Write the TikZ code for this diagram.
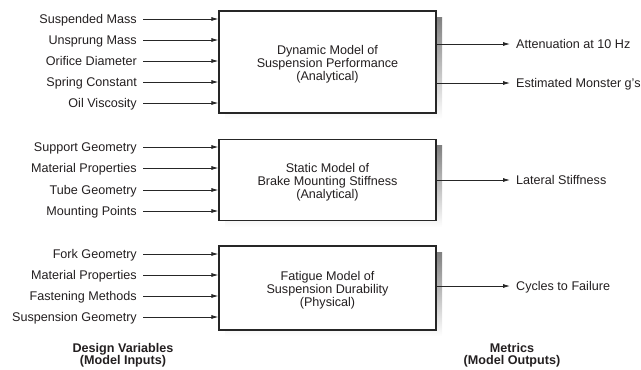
\documentclass[tikz,border=0pt]{standalone}
\usepackage{fontspec}
\setmainfont{Liberation Sans}
\usetikzlibrary{arrows.meta}
\definecolor{txt}{HTML}{231F20}
\definecolor{shade}{HTML}{D4D4D4}
\begin{document}
\begin{tikzpicture}[x=1pt,y=-1pt,
  every node/.style={font=\fontsize{12.6}{13}\selectfont, text=txt},
  inlab/.style={anchor=east, inner xsep=6pt, inner ysep=0pt, text height=9pt, text depth=0pt},
  outlab/.style={anchor=west, inner xsep=6pt, inner ysep=0pt, text height=9pt, text depth=0pt},
  modelbox/.style={draw=black!85, line width=1.1pt, fill=white, minimum width=217pt, inner sep=0pt},
  arr/.style={draw=black!85, line width=0.8pt, -{Latex[length=7pt,width=4pt]}},
  heading/.style={font=\bfseries\fontsize{12.6}{12.5}\selectfont, align=center}]
\useasboundingbox (0,0) rectangle (641,370);

% shadows
\fill[shade] (225,17) rectangle (442,119);
\fill[shade] (225,145) rectangle (442,227);
\fill[shade] (225,252) rectangle (442,336);

% boxes
\node[modelbox, minimum height=102pt] (b1) at (327.5,62) {};
\node[modelbox, minimum height=81pt] (b2) at (327.5,180) {};
\node[modelbox, minimum height=84pt] (b3) at (327.5,288) {};

\node[align=center] (t1) at ([yshift=-2pt]b1.center) {Dynamic Model of\\Suspension Performance\\(Analytical)};
\node[align=center] (t2) at ([yshift=-2pt]b2.center) {Static Model of\\Brake Mounting Stiffness\\(Analytical)};
\node[align=center] (t3) at ([yshift=-2pt]b3.center) {Fatigue Model of\\Suspension Durability\\(Physical)};

% inputs group 1
\node[inlab] (i1) at (143,19) {Suspended Mass};
\node[inlab] (i2) at (143,40) {Unsprung Mass};
\node[inlab] (i3) at (143,61) {Orifice Diameter};
\node[inlab] (i4) at (143,82) {Spring Constant};
\node[inlab] (i5) at (143,103) {Oil Viscosity};
\foreach \n in {i1,i2,i3,i4,i5} \draw[arr] (\n.east) -- (\n.east -| b1.west);

% inputs group 2
\node[inlab] (j1) at (143,147) {Support Geometry};
\node[inlab] (j2) at (143,168) {Material Properties};
\node[inlab] (j3) at (143,190) {Tube Geometry};
\node[inlab] (j4) at (143,211) {Mounting Points};
\foreach \n in {j1,j2,j3,j4} \draw[arr] (\n.east) -- (\n.east -| b2.west);

% inputs group 3
\node[inlab] (k1) at (143,254) {Fork Geometry};
\node[inlab] (k2) at (143,275) {Material Properties};
\node[inlab] (k3) at (143,296) {Fastening Methods};
\node[inlab] (k4) at (143,317) {Suspension Geometry};
\foreach \n in {k1,k2,k3,k4} \draw[arr] (\n.east) -- (\n.east -| b3.west);

% outputs
\node[outlab] (o1) at (510,44) {Attenuation at 10 Hz};
\node[outlab] (o2) at (510,83) {Estimated Monster g's};
\node[outlab] (o3) at (510,180) {Lateral Stiffness};
\node[outlab] (o4) at (510,286) {Cycles to Failure};
\draw[arr] (o1.west -| b1.east) -- (o1.west);
\draw[arr] (o2.west -| b1.east) -- (o2.west);
\draw[arr] (o3.west -| b2.east) -- (o3.west);
\draw[arr] (o4.west -| b3.east) -- (o4.west);

% headings
\node[heading] (h1) at (123,355) {Design Variables\\(Model Inputs)};
\node[heading] (h2) at (512,355) {Metrics\\(Model Outputs)};
\end{tikzpicture}
\end{document}
